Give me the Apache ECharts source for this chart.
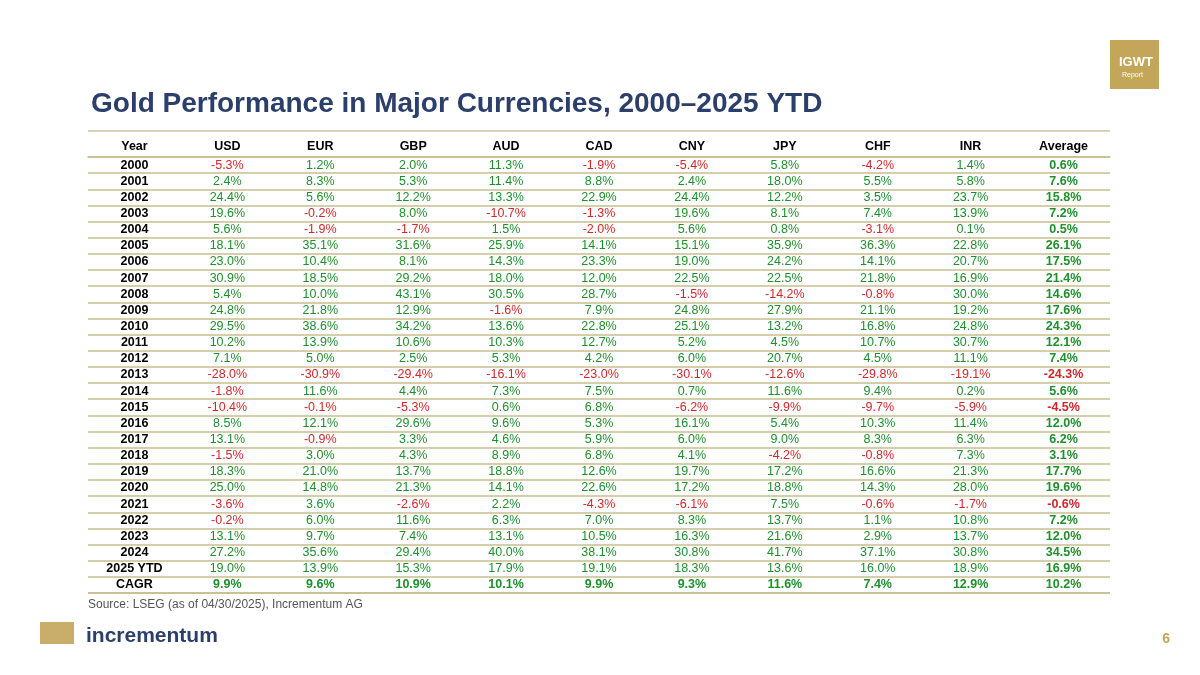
<!DOCTYPE html>
<html><head><meta charset="utf-8">
<script src="https://cdn.jsdelivr.net/npm/echarts@6/dist/echarts.min.js"></script>
<style>body{margin:0}#c{width:1200px;height:675px}</style></head>
<body><div id="c"></div>
<script>
const columns = ['Year', 'USD', 'EUR', 'GBP', 'AUD', 'CAD', 'CNY', 'JPY', 'CHF', 'INR', 'Average']
const years = ['2000','2001','2002','2003','2004','2005','2006','2007','2008','2009','2010','2011','2012','2013','2014','2015','2016','2017','2018','2019','2020','2021','2022','2023','2024','2025 YTD','CAGR']
const usd = [-5.3,2.4,24.4,19.6,5.6,18.1,23.0,30.9,5.4,24.8,29.5,10.2,7.1,-28.0,-1.8,-10.4,8.5,13.1,-1.5,18.3,25.0,-3.6,-0.2,13.1,27.2,19.0,9.9]
const eur = [1.2,8.3,5.6,-0.2,-1.9,35.1,10.4,18.5,10.0,21.8,38.6,13.9,5.0,-30.9,11.6,-0.1,12.1,-0.9,3.0,21.0,14.8,3.6,6.0,9.7,35.6,13.9,9.6]
const gbp = [2.0,5.3,12.2,8.0,-1.7,31.6,8.1,29.2,43.1,12.9,34.2,10.6,2.5,-29.4,4.4,-5.3,29.6,3.3,4.3,13.7,21.3,-2.6,11.6,7.4,29.4,15.3,10.9]
const aud = [11.3,11.4,13.3,-10.7,1.5,25.9,14.3,18.0,30.5,-1.6,13.6,10.3,5.3,-16.1,7.3,0.6,9.6,4.6,8.9,18.8,14.1,2.2,6.3,13.1,40.0,17.9,10.1]
const cad = [-1.9,8.8,22.9,-1.3,-2.0,14.1,23.3,12.0,28.7,7.9,22.8,12.7,4.2,-23.0,7.5,6.8,5.3,5.9,6.8,12.6,22.6,-4.3,7.0,10.5,38.1,19.1,9.9]
const cny = [-5.4,2.4,24.4,19.6,5.6,15.1,19.0,22.5,-1.5,24.8,25.1,5.2,6.0,-30.1,0.7,-6.2,16.1,6.0,4.1,19.7,17.2,-6.1,8.3,16.3,30.8,18.3,9.3]
const jpy = [5.8,18.0,12.2,8.1,0.8,35.9,24.2,22.5,-14.2,27.9,13.2,4.5,20.7,-12.6,11.6,-9.9,5.4,9.0,-4.2,17.2,18.8,7.5,13.7,21.6,41.7,13.6,11.6]
const chf = [-4.2,5.5,3.5,7.4,-3.1,36.3,14.1,21.8,-0.8,21.1,16.8,10.7,4.5,-29.8,9.4,-9.7,10.3,8.3,-0.8,16.6,14.3,-0.6,1.1,2.9,37.1,16.0,7.4]
const inr = [1.4,5.8,23.7,13.9,0.1,22.8,20.7,16.9,30.0,19.2,24.8,30.7,11.1,-19.1,0.2,-5.9,11.4,6.3,7.3,21.3,28.0,-1.7,10.8,13.7,30.8,18.9,12.9]
const average = [0.6,7.6,15.8,7.2,0.5,26.1,17.5,21.4,14.6,17.6,24.3,12.1,7.4,-24.3,5.6,-4.5,12.0,6.2,3.1,17.7,19.6,-0.6,7.2,12.0,34.5,16.9,10.2]

const valueCols = [usd, eur, gbp, aud, cad, cny, jpy, chf, inr, average]
const GREEN = '#1f8f2c', RED = '#d0282a', GOLD = '#c9bd8c'
const cells = []
years.forEach((y, r) => {
  cells.push({ value: [0, r, y], label: { color: '#000', fontWeight: 'bold' } })
  valueCols.forEach((col, c) => {
    const v = col[r]
    const bold = c === 9 || r === years.length - 1
    cells.push({
      value: [c + 1, r, v.toFixed(1) + '%'],
      label: { color: v < 0 ? RED : GREEN, fontWeight: bold ? 'bold' : 'normal' }
    })
  })
})

const chart = echarts.init(document.getElementById('c'))
chart.setOption({
  textStyle: { fontFamily: 'Liberation Sans, Arial' },
  title: {
    text: 'Gold Performance in Major Currencies, 2000–2025 YTD',
    left: 86, top: 85,
    textStyle: { fontSize: 28, fontWeight: 'bold', color: '#2c3f6b' }
  },
  grid: { left: 88, right: 90, top: 157, bottom: 82 },
  xAxis: {
    type: 'category', data: columns, position: 'top',
    axisLine: { lineStyle: { color: GOLD, width: 1.5 } },
    axisTick: { show: false },
    axisLabel: { color: '#000', fontWeight: 'bold', fontSize: 12.5, margin: 4 }
  },
  yAxis: {
    type: 'category', data: years, inverse: true,
    axisLine: { show: false }, axisTick: { show: false }, axisLabel: { show: false },
    splitLine: { show: true, interval: 0, lineStyle: { color: GOLD, width: 1.5 } }
  },
  series: [{
    type: 'scatter', symbolSize: 0, data: cells, silent: true,
    itemStyle: { opacity: 1 },
    label: { show: true, position: 'inside', fontSize: 12.5, opacity: 1, formatter: p => p.value[2] }
  }],
  graphic: [
    { type: 'line', shape: { x1: 88, y1: 131, x2: 1110, y2: 131 }, style: { stroke: '#d6d1b8', lineWidth: 2 } },
    { type: 'line', shape: { x1: 88, y1: 593, x2: 1110, y2: 593 }, style: { stroke: GOLD, lineWidth: 1.5 } },
    { type: 'text', left: 88, top: 599, style: { text: 'Source: LSEG (as of 04/30/2025), Incrementum AG', fill: '#555', fontSize: 12 } },
    { type: 'rect', shape: { x: 1110, y: 40, width: 49, height: 49 }, style: { fill: '#c3a65a' } },
    { type: 'text', left: 1119, top: 56, style: { text: 'IGWT', fill: '#fff', fontSize: 13, fontWeight: 'bold' } },
    { type: 'text', left: 1122, top: 72, style: { text: 'Report', fill: '#fff', fontSize: 7 } },
    { type: 'rect', shape: { x: 40, y: 622, width: 34, height: 22 }, style: { fill: '#c9ad6a' } },
    { type: 'text', left: 86, top: 626, style: { text: 'incrementum', fill: '#2c3f6b', fontSize: 21, fontWeight: 'bold' } },
    { type: 'text', right: 30, top: 632, style: { text: '6', fill: '#c3a65a', fontSize: 14, fontWeight: 'bold' } }
  ]
})
</script></body></html>
